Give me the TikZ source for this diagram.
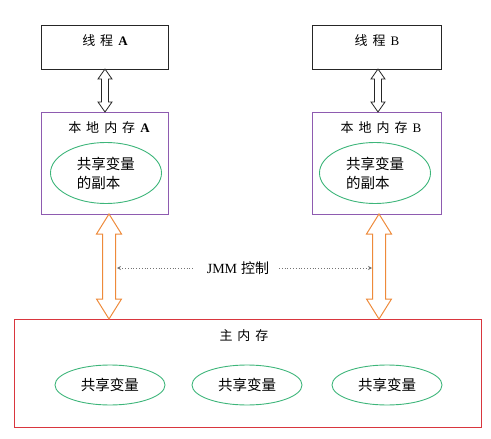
\documentclass[tikz,border=0pt]{standalone}
\usepackage{fontspec}
\setmainfont{Liberation Serif}
\newfontfamily\cjk{Noto Sans CJK SC}
\usetikzlibrary{calc,arrows.meta,shapes.geometric}
\definecolor{pboxc}{HTML}{8E5BB0}
\definecolor{rboxc}{HTML}{D9363E}
\definecolor{gellc}{HTML}{3DB57A}
\definecolor{oarrc}{HTML}{EE8A3A}
\tikzset{
  threadbox/.style={draw=black!85, line width=0.9pt},
  localbox/.style={draw=pboxc, line width=0.9pt},
  mainbox/.style={draw=rboxc, line width=0.9pt},
  varell/.style={draw=gellc, line width=0.9pt, ellipse, inner sep=0pt},
  lbl/.style={font=\cjk\fontsize{13}{15}\selectfont, inner sep=0pt},
  elbl/.style={font=\cjk\fontsize{14.5}{19}\selectfont},
  thinarrow/.style={draw=black!85, fill=white, line width=0.8pt},
  fatarrow/.style={draw=oarrc, fill=white, line width=1pt},
  jmm/.style={draw=black!55, dotted, line width=0.8pt}
}
\newcommand{\gp}{\hspace{5pt}}
% #1 top coord, #2 bottom coord, #3 shaft half, #4 head half, #5 head length
\newcommand{\dblarrow}[6]{%
  \draw[#6] let \p1=(#1), \p2=(#2) in
    (\x1,\y1) -- (\x1+#4,\y1-#5) -- (\x1+#3,\y1-#5) -- (\x1+#3,\y2+#5) -- (\x1+#4,\y2+#5)
    -- (\x1,\y2) -- (\x1-#4,\y2+#5) -- (\x1-#3,\y2+#5) -- (\x1-#3,\y1-#5) -- (\x1-#4,\y1-#5) -- cycle;}
\begin{document}
\begin{tikzpicture}[x=1pt,y=-1pt]
\useasboundingbox (0,0) rectangle (491,439);
% thread boxes
\node[threadbox, minimum width=127pt, minimum height=44pt, anchor=north west] (ta) at (41,25) {};
\node[threadbox, minimum width=129pt, minimum height=44pt, anchor=north west] (tb) at (312,25) {};
\node[lbl] (tal) at ($(ta.north)+(0,16)$) {线\gp 程\gp\rmfamily\bfseries A};
\node[lbl] (tbl) at ($(tb.north)+(0,16)$) {线\gp 程\gp\rmfamily B};
% local memory boxes
\node[localbox, minimum width=127pt, minimum height=102pt, anchor=north west] (la) at (41,112) {};
\node[localbox, minimum width=129pt, minimum height=102pt, anchor=north west] (lb) at (312,112) {};
\node[lbl] (lal) at ($(la.north)+(4,16)$) {本\gp 地\gp 内\gp 存\gp\rmfamily\bfseries A};
\node[lbl] (lbl) at ($(lb.north)+(4,16)$) {本\gp 地\gp 内\gp 存\gp\rmfamily B};
\node[varell, minimum width=111pt, minimum height=61pt] (ea) at (106,173) {};
\node[elbl, align=left, inner sep=0pt] (eat) at (ea.center) {共享变量\\的副本};
\node[varell, minimum width=111pt, minimum height=61pt] (eb) at (375,173) {};
\node[elbl, align=left, inner sep=0pt] (ebt) at (eb.center) {共享变量\\的副本};
% main memory
\node[mainbox, minimum width=467pt, minimum height=108pt, anchor=north west] (mm) at (14,319) {};
\node[lbl] (mml) at (244,336) {主\gp 内\gp 存};
\node[varell, minimum width=110pt, minimum height=40pt, elbl] (v1) at (110,385) {共享变量};
\node[varell, minimum width=110pt, minimum height=40pt, elbl] (v2) at (247,385) {共享变量};
\node[varell, minimum width=110pt, minimum height=40pt, elbl] (v3) at (387,385) {共享变量};
% connection points
\coordinate (a1) at (105,69);
\coordinate (a2) at (105,112);
\coordinate (b1) at (378,69);
\coordinate (b2) at (378,112);
\coordinate (c1) at (109,214);
\coordinate (c2) at (109,319);
\coordinate (d1) at (379,214);
\coordinate (d2) at (379,319);
\dblarrow{a1}{a2}{3.5}{7}{10}{thinarrow}
\dblarrow{b1}{b2}{3.5}{7}{10}{thinarrow}
\dblarrow{c1}{c2}{6.5}{12.5}{20}{fatarrow}
\dblarrow{d1}{d2}{6.5}{12.5}{20}{fatarrow}
% JMM control
\node[lbl, font=\cjk\fontsize{14}{16}\selectfont] (jm) at (238,268) {\rmfamily JMM\hspace{4pt}{\cjk 控制}};
\coordinate (jl) at (117,268);
\coordinate (jr) at (372,268);
\coordinate (jml) at (194,268);
\coordinate (jmr) at (279,268);
\draw[jmm, {Stealth[length=4pt,width=4pt]}-{}] (jl) -- (jml);
\draw[jmm, {}-{Stealth[length=4pt,width=4pt]}] (jmr) -- (jr);
\end{tikzpicture}
\end{document}
